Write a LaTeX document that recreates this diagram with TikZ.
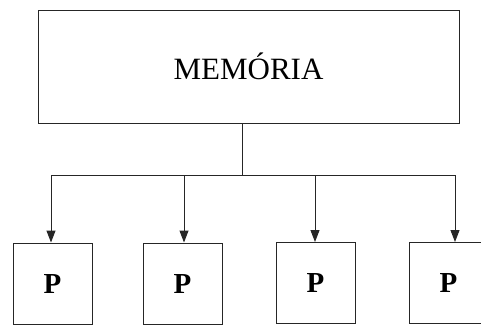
\documentclass[tikz,border=0pt]{standalone}
\usepackage{fontspec}
\setmainfont{Liberation Serif}
\usetikzlibrary{arrows.meta}
\begin{document}
\begin{tikzpicture}[x=1pt,y=-1pt,
  line width=1pt, draw=black!85,
  membox/.style={draw, minimum width=421pt, minimum height=113pt, inner sep=0pt, font=\fontsize{31}{31}\selectfont},
  pbox/.style={draw, minimum width=79pt, minimum height=81pt, inner sep=0pt, font=\fontsize{29}{29}\selectfont\bfseries},
  arr/.style={-{Triangle[length=12pt,width=9pt]}}]
\useasboundingbox (0,0) rectangle (481,325);
\clip (0,0) rectangle (481,325);
\node[membox] (mem) at (248.5,66.5) {MEMÓRIA};
\node[pbox] (p1) at (52.5,283.5) {P};
\node[pbox] (p2) at (182.5,283.5) {P};
\node[pbox] (p3) at (315.5,283) {P};
\node[pbox] (p4) at (448.5,283) {P};
\coordinate (j) at (242,175);
\coordinate (b1) at (51,175);
\coordinate (b2) at (184,175);
\coordinate (b3) at (315,175);
\coordinate (b4) at (455,175);
\draw (mem.south -| j) -- (j);
\draw (b1) -- (b4);
\draw[arr] (b1) -- (b1 |- p1.north);
\draw[arr] (b2) -- (b2 |- p2.north);
\draw[arr] (b3) -- (b3 |- p3.north);
\draw[arr] (b4) -- (b4 |- p4.north);
\end{tikzpicture}
\end{document}
